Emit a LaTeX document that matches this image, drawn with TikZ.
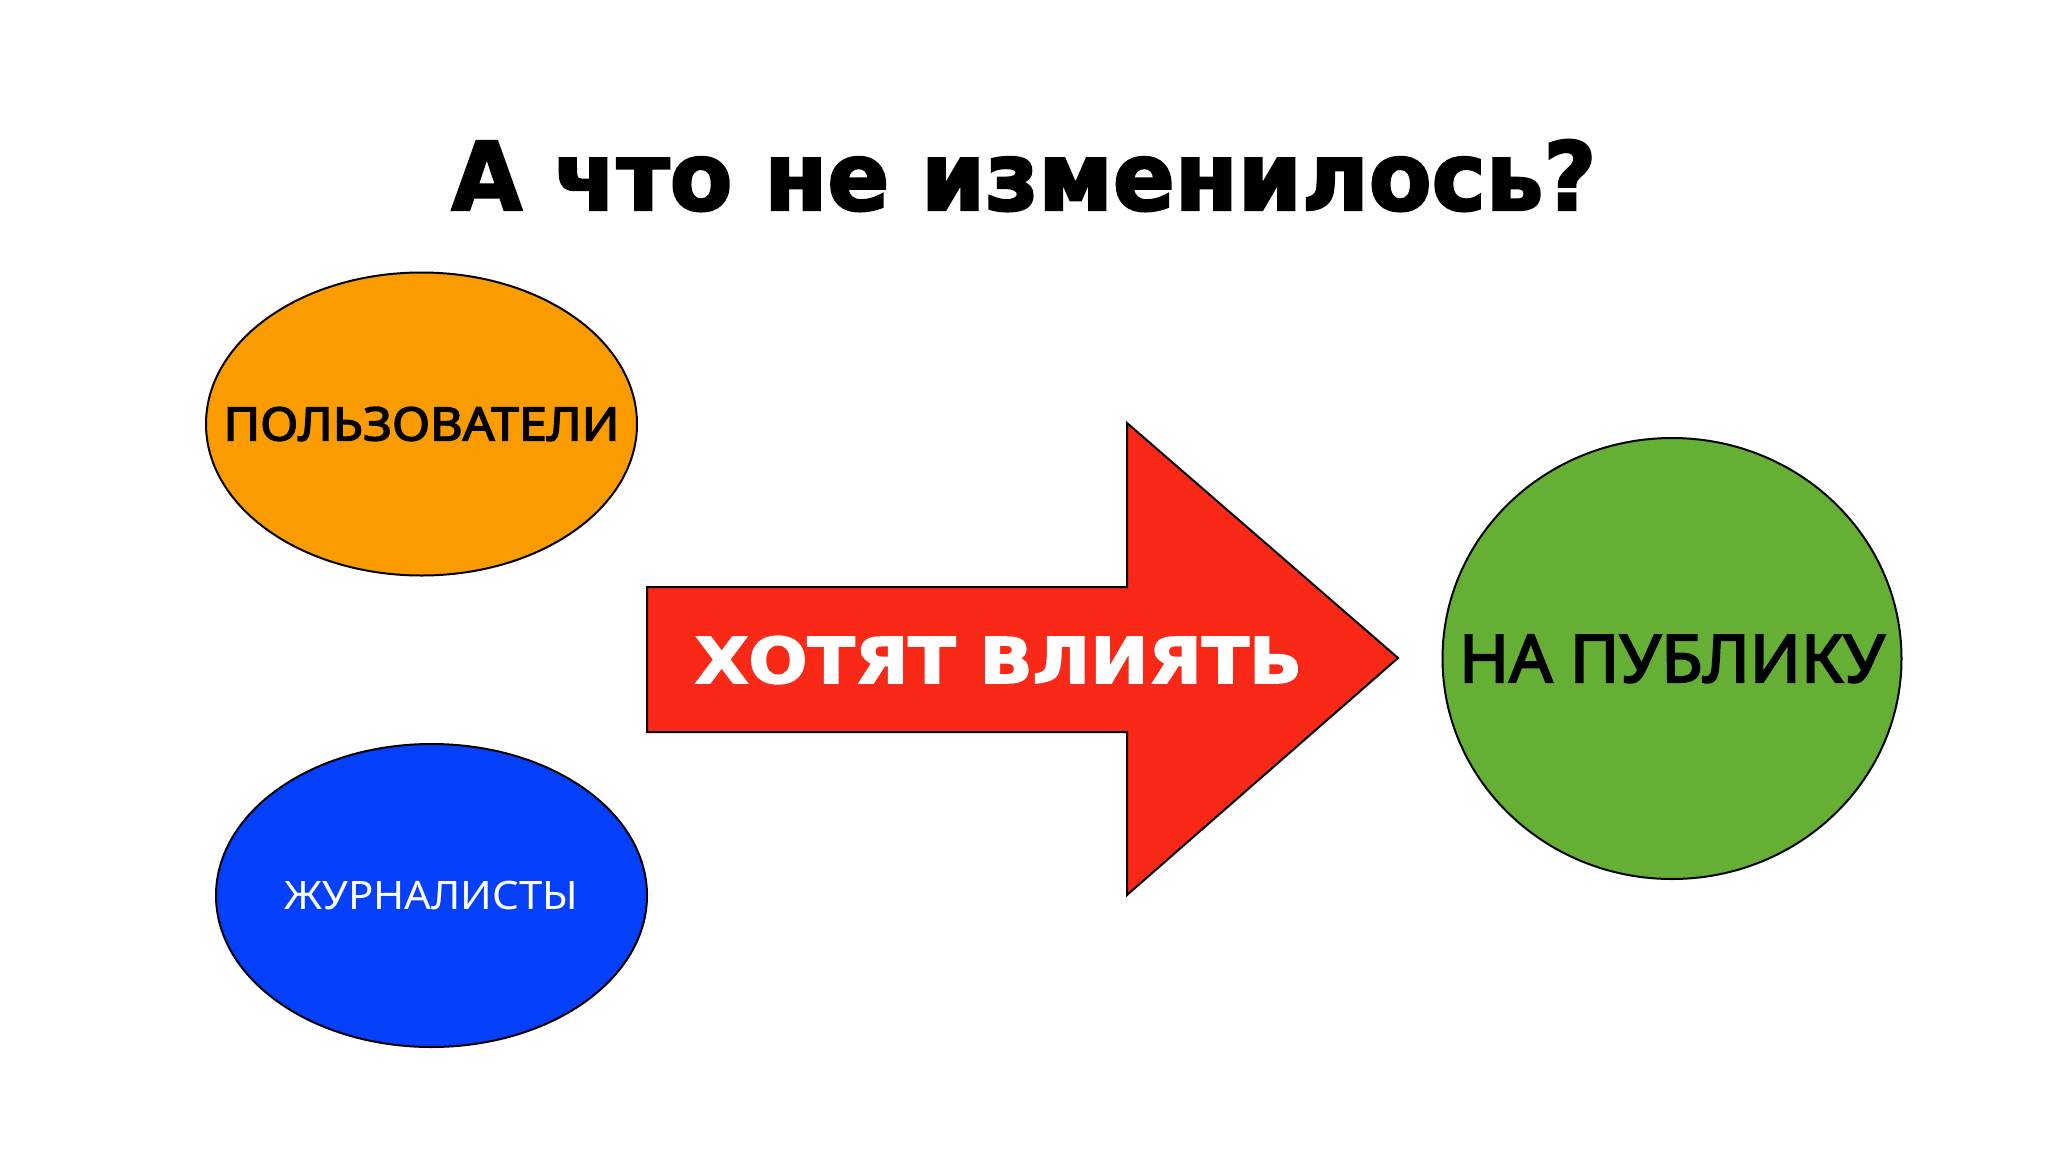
\documentclass[tikz,border=0pt]{standalone}
\usepackage{fontspec}
\usepackage{graphicx}
\setmainfont{DejaVu Sans}
\newfontfamily\heavyfont{DejaVu Sans Bold}[FakeBold=2.5]
\newfontfamily\bodyfont{Noto Sans}
\newfontfamily\bodyfontheavy{Noto Sans}[FakeBold=3]
\newcommand\capfit[3]{\makebox[0pt]{\resizebox{#1}{#2}{\raisebox{0pt}[\fontcharht\font`\Н][0pt]{#3}}}}
\definecolor{orangeC}{RGB}{250,156,0}
\definecolor{blueC}{RGB}{4,64,250}
\definecolor{redC}{RGB}{250,40,22}
\definecolor{greenC}{RGB}{102,175,53}
\usetikzlibrary{shapes.geometric}
\tikzset{
  blob/.style={ellipse, draw=black, line width=2pt, inner sep=0pt},
  lbl/.style={inner sep=0pt, font=\bodyfontheavy\fontsize{40}{48}\selectfont},
  lbllight/.style={inner sep=0pt, font=\bodyfont\fontsize{40}{48}\selectfont},
  ttl/.style={inner sep=0pt, anchor=base, font=\heavyfont\fontsize{90}{100}\selectfont},
  arrowshape/.style={fill=redC, draw=black, line width=2pt, line join=miter},
}
\begin{document}
\begin{tikzpicture}[x=1pt, y=-1pt]
\useasboundingbox[fill=white] (0,0) rectangle (2048,1152);
\node[ttl] (title) at (1024,210) {\capfit{1145pt}{69pt}{А что не изменилось?}};
\node[blob, fill=orangeC, minimum width=431pt, minimum height=303pt, lbl] (users) at (421.5,424) {\capfit{396pt}{33pt}{ПОЛЬЗОВАТЕЛИ}};
\node[blob, fill=blueC, minimum width=431pt, minimum height=303pt, lbllight, text=white] (journ) at (431.5,895.5) {\capfit{294pt}{28pt}{ЖУРНАЛИСТЫ}};
\node[blob, fill=greenC, minimum width=459pt, minimum height=441pt, lbl] (public) at (1672,658.5) {\capfit{426pt}{47pt}{НА ПУБЛИКУ}};
\draw[arrowshape] (647,587) -- (1127,587) -- (1127,423) -- (1398,658) -- (1127,895) -- (1127,732) -- (647,732) -- cycle;
\node[inner sep=0pt, text=white, font=\heavyfont\fontsize{60}{70}\selectfont] (want) at (998.5,660) {\capfit{607pt}{46pt}{ХОТЯТ ВЛИЯТЬ}};
\end{tikzpicture}
\end{document}
